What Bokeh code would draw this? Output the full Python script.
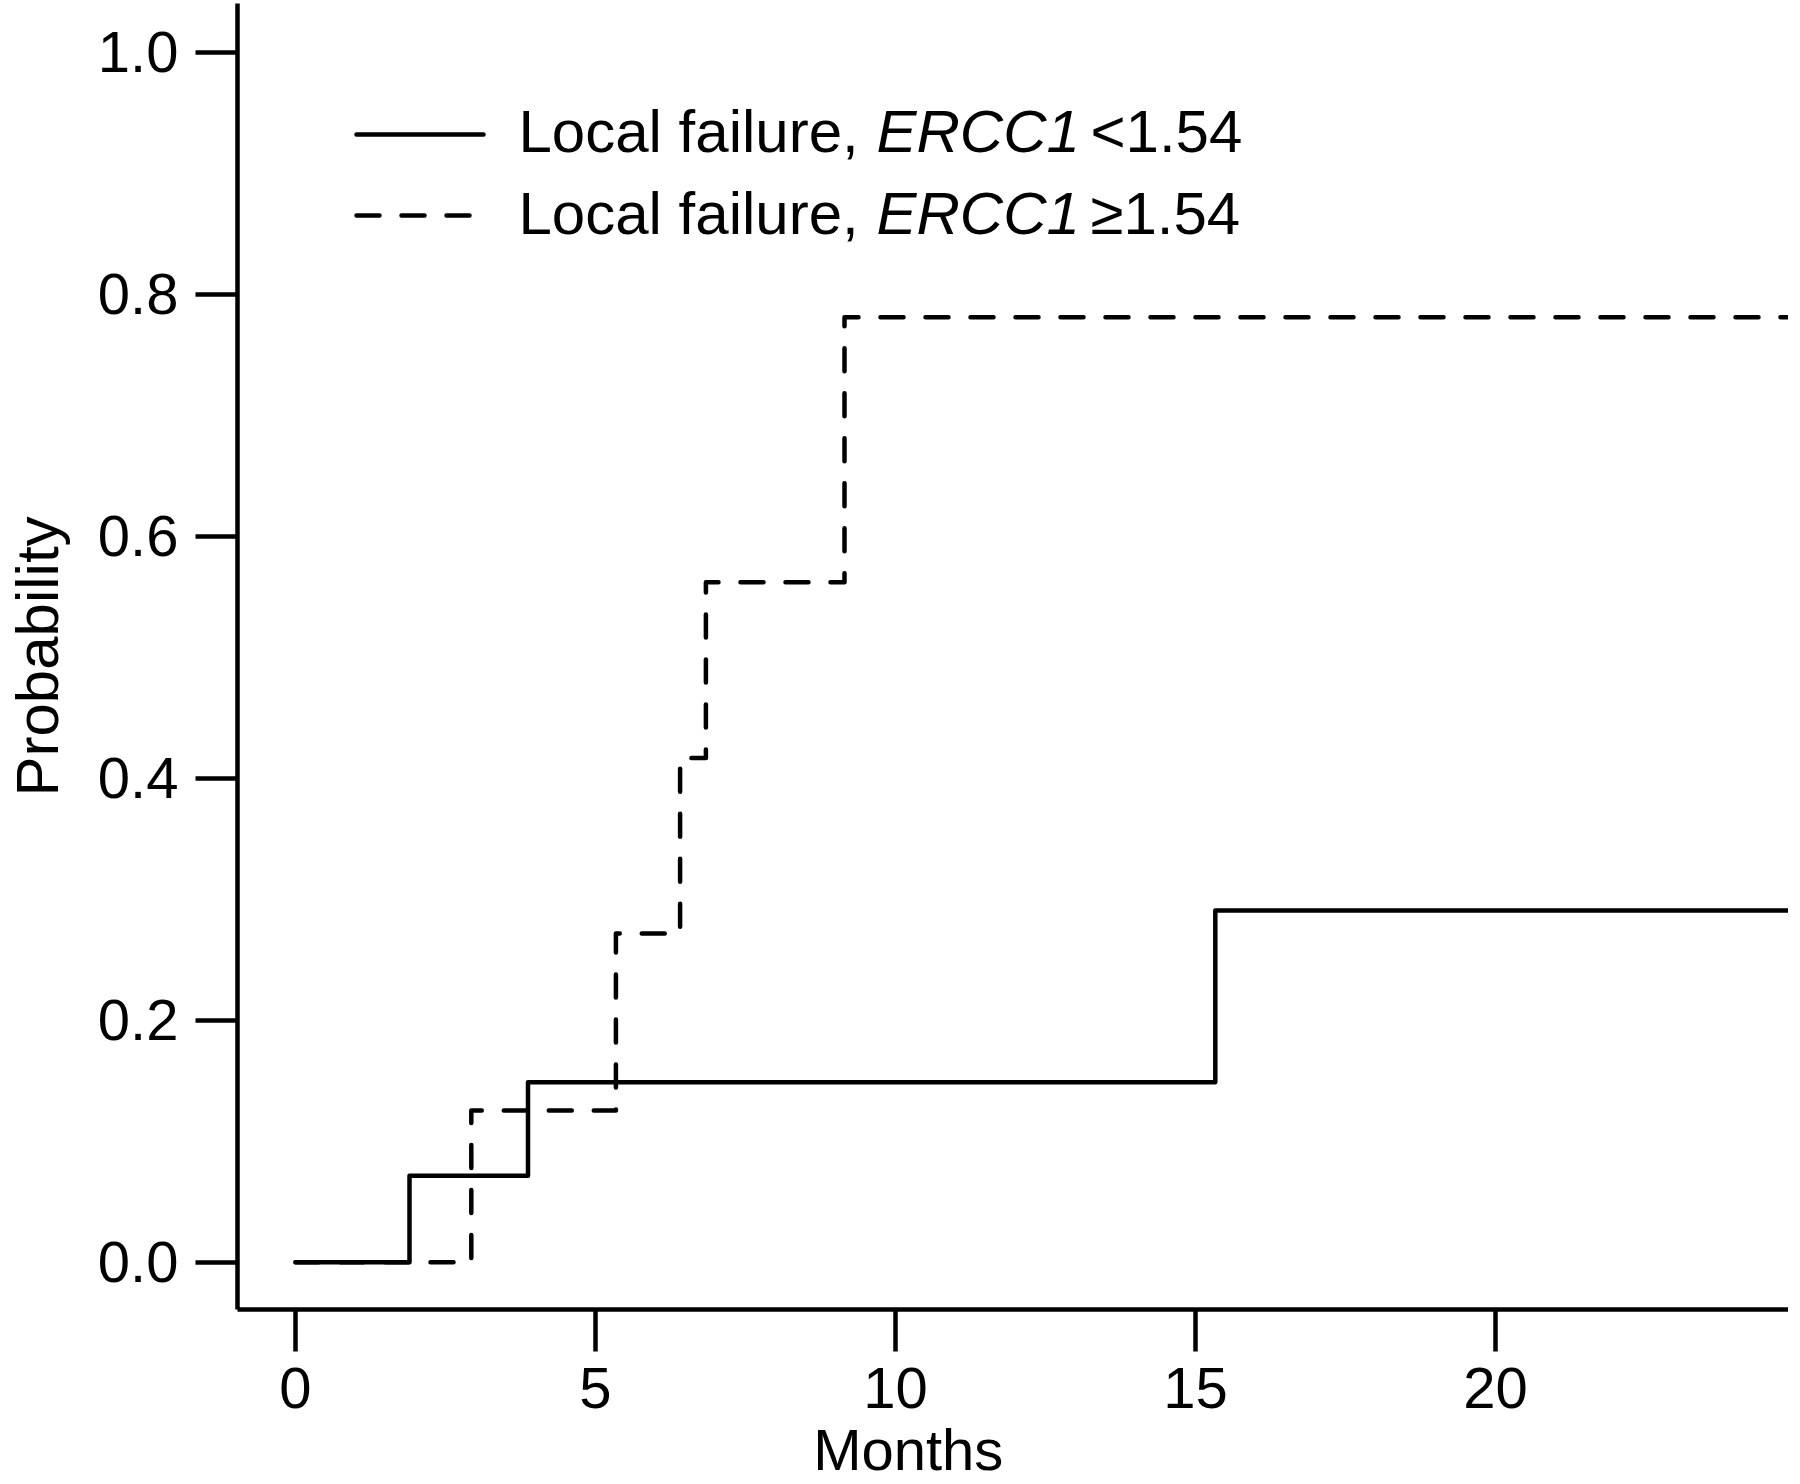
from bokeh.plotting import figure
from bokeh.models import FixedTicker, PrintfTickFormatter, Range1d
from bokeh.embed import file_html
from bokeh.resources import INLINE
from bokeh.core.properties import value

# ---- data ----
months_low = [0, 1.9, 3.875, 15.33, 24.9]
prob_low = [0, 0.0714, 0.1488, 0.2907, 0.2907]

months_high = [0, 2.93, 5.34, 6.41, 6.84, 9.15, 24.9]
prob_high = [0, 0.1254, 0.2717, 0.4166, 0.562, 0.781, 0.781]

x_ticks = [0, 5, 10, 15, 20]
y_ticks = [0.0, 0.2, 0.4, 0.6, 0.8, 1.0]

legend_label_a = "Local failure,"
legend_gene = "ERCC1"
legend_low = "<1.54"
legend_high = "\u22651.54"
x_title = "Months"
y_title = "Probability"

# ---- layout ----
FONT = "Liberation Sans"
FS_TICK = "58px"
FS = "60px"
LW = 4.5
PAGE_X = 5  # observed horizontal page offset

# pixel -> data helpers (reference pixel geometry)
X0_PX, PX_PER_MONTH = 299.0, 60.0
Y0_PX, PX_PER_UNIT = 1261.7, 1210.0
FRAME_L, FRAME_R, FRAME_T, FRAME_B = 241, 1792, 3, 1309


def dx(px):
    return (px - X0_PX) / PX_PER_MONTH


def dy(py):
    return (Y0_PX - py) / PX_PER_UNIT


p = figure(frame_width=FRAME_R - FRAME_L, frame_height=FRAME_B - FRAME_T,
           output_backend="svg", toolbar_location=None,
           x_range=Range1d(dx(FRAME_L), dx(FRAME_R)),
           y_range=Range1d(dy(FRAME_B), dy(FRAME_T)),
           min_border_left=FRAME_L - PAGE_X, min_border_right=0,
           min_border_top=FRAME_T, min_border_bottom=0)
p.outline_line_color = None
p.xgrid.visible = False
p.ygrid.visible = False

for ax in (p.xaxis[0], p.yaxis[0]):
    ax.axis_line_width = LW
    ax.axis_line_color = "black"
    ax.major_tick_line_width = LW
    ax.major_tick_line_color = "black"
    ax.major_tick_out = 42
    ax.major_tick_in = 0
    ax.minor_tick_out = 0
    ax.minor_tick_in = 0
    ax.major_label_text_font = FONT
    ax.major_label_text_font_size = FS_TICK
    ax.major_label_text_color = "black"
    ax.axis_label_text_font = FONT
    ax.axis_label_text_font_style = "normal"
    ax.axis_label_text_color = "black"

p.xaxis.ticker = FixedTicker(ticks=x_ticks)
p.yaxis.ticker = FixedTicker(ticks=y_ticks)
p.yaxis.formatter = PrintfTickFormatter(format="%.1f")
p.xaxis.major_label_standoff = 16
p.yaxis.major_label_standoff = 17
p.yaxis.major_label_orientation = "horizontal"

p.yaxis.axis_label = y_title
p.yaxis.axis_label_text_font_size = FS
p.yaxis.axis_label_standoff = 24

# x title sits left of the frame centre in the reference: pad with no-break spaces
p.xaxis.axis_label = x_title + "\u00a0" * 13
p.xaxis.axis_label_text_font_size = "58px"
p.xaxis.axis_label_standoff = 6

# ---- curves ----
p.step(months_low, prob_low, mode="after", line_color="black", line_width=LW,
       line_cap="round", line_join="round")
p.step(months_high, prob_high, mode="after", line_color="black", line_width=LW,
       line_dash="23 22", line_cap="round", line_join="round")

# ---- legend (manual, to allow italic gene name) ----
p.line([dx(360), dx(487)], [dy(134), dy(134)], line_color="black", line_width=LW,
       line_cap="round")
p.line([dx(360), dx(478)], [dy(215), dy(215)], line_color="black", line_width=LW,
       line_dash="23 22", line_cap="round")

rows = [(dy(130.5), legend_low), (dy(213), legend_high)]
for ty, tail in rows:
    p.text(x=[dx(522)], y=[ty], text=[legend_label_a], text_font=value(FONT),
           text_font_size=FS, text_baseline="middle", text_align="left",
           text_color="black")
    p.text(x=[dx(880)], y=[ty], text=[legend_gene], text_font=value(FONT),
           text_font_size=FS, text_font_style="italic", text_baseline="middle",
           text_align="left", text_color="black")
    p.text(x=[dx(1094)], y=[ty], text=[tail], text_font=value(FONT),
           text_font_size=FS, text_baseline="middle", text_align="left",
           text_color="black")

open("out.html", "w").write(file_html(p, INLINE))
